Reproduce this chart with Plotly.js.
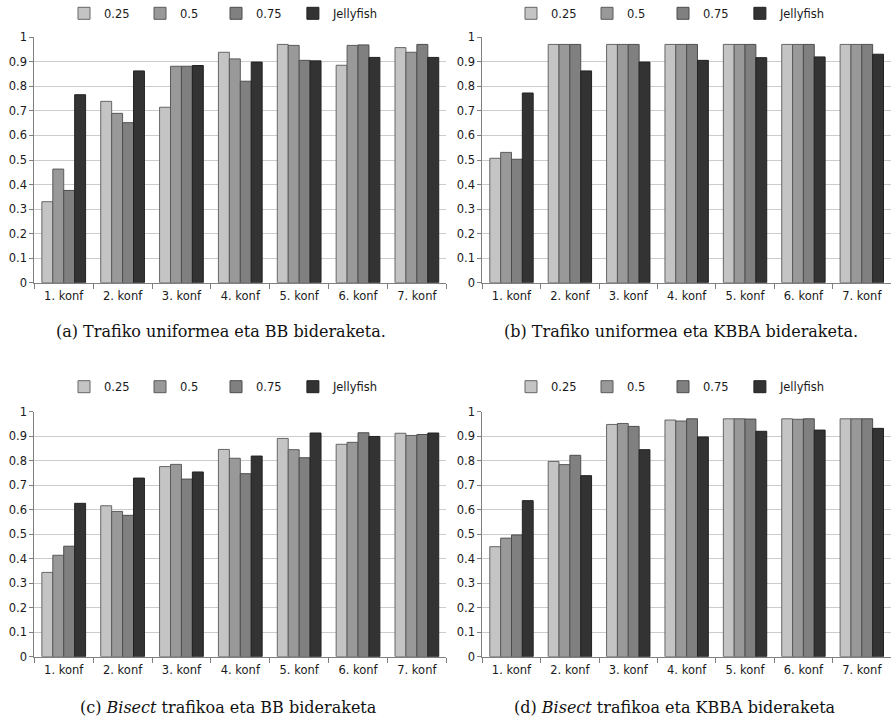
<!DOCTYPE html>
<html>
<head>
<meta charset="utf-8">
<script src="https://cdn.plot.ly/plotly-3.0.1.min.js"></script>
<style>
  html, body { margin: 0; padding: 0; background: #ffffff; overflow: hidden; }
  #chart { width: 891px; height: 720px; }
</style>
</head>
<body>
<div id="chart"></div>
<script>
// ---- data ----
const categories = ['1. konf', '2. konf', '3. konf', '4. konf', '5. konf', '6. konf', '7. konf'];
const seriesNames = ['0.25', '0.5', '0.75', 'Jellyfish'];

// (a) Trafiko uniformea eta BB bideraketa
const a_025 = [0.330, 0.739, 0.715, 0.939, 0.971, 0.886, 0.958];
const a_050 = [0.463, 0.690, 0.882, 0.912, 0.967, 0.967, 0.939];
const a_075 = [0.376, 0.652, 0.882, 0.821, 0.906, 0.969, 0.971];
const a_jf  = [0.766, 0.863, 0.885, 0.899, 0.904, 0.918, 0.918];

// (b) Trafiko uniformea eta KBBA bideraketa
const b_025 = [0.507, 0.971, 0.971, 0.971, 0.971, 0.971, 0.971];
const b_050 = [0.531, 0.971, 0.971, 0.971, 0.971, 0.971, 0.971];
const b_075 = [0.503, 0.971, 0.971, 0.971, 0.971, 0.971, 0.971];
const b_jf  = [0.773, 0.863, 0.899, 0.906, 0.917, 0.920, 0.931];

// (c) Bisect trafikoa eta BB bideraketa
const c_025 = [0.344, 0.616, 0.776, 0.846, 0.891, 0.867, 0.912];
const c_050 = [0.414, 0.593, 0.785, 0.810, 0.845, 0.875, 0.903];
const c_075 = [0.451, 0.577, 0.725, 0.747, 0.812, 0.914, 0.907];
const c_jf  = [0.626, 0.729, 0.754, 0.819, 0.913, 0.899, 0.913];

// (d) Bisect trafikoa eta KBBA bideraketa
const d_025 = [0.449, 0.797, 0.948, 0.966, 0.971, 0.971, 0.971];
const d_050 = [0.484, 0.784, 0.952, 0.962, 0.971, 0.969, 0.971];
const d_075 = [0.497, 0.822, 0.940, 0.971, 0.970, 0.971, 0.971];
const d_jf  = [0.637, 0.739, 0.845, 0.897, 0.920, 0.925, 0.932];

const captions = [
  '(a) Trafiko uniformea eta BB bideraketa.',
  '(b) Trafiko uniformea eta KBBA bideraketa.',
  '(c) <i>Bisect</i> trafikoa eta BB bideraketa',
  '(d) <i>Bisect</i> trafikoa eta KBBA bideraketa'
];
const yTickVals = [0, 0.1, 0.2, 0.3, 0.4, 0.5, 0.6, 0.7, 0.8, 0.9, 1];
const yTickText = ['0', '0.1', '0.2', '0.3', '0.4', '0.5', '0.6', '0.7', '0.8', '0.9', '1'];

// ---- styling ----
const fillColors = ['#c4c4c4', '#999999', '#808080', '#333333'];
const lineColors = ['#666666', '#5a5a5a', '#4d4d4d', '#222222'];
// each panel: first three entries share one legend (fixed entry width), Jellyfish in its own legend
const panels = [
  { series: [a_025, a_050, a_075, a_jf], xa: 'x',  ya: 'y',  legends: ['legend',  'legend5'] },
  { series: [b_025, b_050, b_075, b_jf], xa: 'x2', ya: 'y2', legends: ['legend2', 'legend6'] },
  { series: [c_025, c_050, c_075, c_jf], xa: 'x3', ya: 'y3', legends: ['legend3', 'legend7'] },
  { series: [d_025, d_050, d_075, d_jf], xa: 'x4', ya: 'y4', legends: ['legend4', 'legend8'] }
];

const traces = [];
panels.forEach(p => {
  p.series.forEach((vals, i) => {
    traces.push({
      type: 'bar',
      name: seriesNames[i],
      x: categories,
      y: vals,
      xaxis: p.xa,
      yaxis: p.ya,
      legend: i < 3 ? p.legends[0] : p.legends[1],
      marker: { color: fillColors[i], line: { color: lineColors[i], width: 1 } },
      hoverinfo: 'x+y+name'
    });
  });
});

const W = 891, H = 720;
const tickFont = { family: 'DejaVu Sans, sans-serif', size: 11.5, color: '#1a1a1a' };

function xAxis(domain, anchor) {
  return {
    domain: domain, anchor: anchor, type: 'category',
    range: [-0.5, categories.length - 0.5], automargin: false,
    showline: true, linecolor: '#808080', linewidth: 1,
    ticks: 'outside', tickson: 'boundaries', ticklen: 5, tickcolor: '#808080', tickwidth: 1,
    tickangle: 0, ticklabelstandoff: 2,
    showgrid: false, zeroline: false, tickfont: tickFont, fixedrange: true
  };
}
function yAxis(domain, anchor) {
  return {
    domain: domain, anchor: anchor, range: [0, 1], automargin: false,
    tickvals: yTickVals, ticktext: yTickText,
    showline: true, linecolor: '#808080', linewidth: 1,
    ticks: 'outside', ticklen: 4, tickcolor: '#808080', tickwidth: 1,
    showgrid: true, gridcolor: '#cccccc', gridwidth: 1,
    zeroline: false, tickfont: tickFont, fixedrange: true
  };
}

const xL = [34.3 / W, 446.3 / W], xR = [482.3 / W, 1];
const yT = [(H - 282.7) / H, (H - 37.3) / H], yB = [(H - 656.7) / H, (H - 411.7) / H];

function legendAt(xpx, ypx, fixedWidth) {
  const lg = {
    orientation: 'h', x: xpx / W, y: (H - ypx) / H, xanchor: 'left', yanchor: 'middle',
    itemwidth: 30,
    font: { family: 'DejaVu Sans, sans-serif', size: 11.5, color: '#1a1a1a' },
    bgcolor: 'rgba(0,0,0,0)', borderwidth: 0, traceorder: 'normal',
    itemclick: false, itemdoubleclick: false
  };
  if (fixedWidth) { lg.entrywidth = 31; lg.entrywidthmode = 'pixels'; }
  return lg;
}

const capFont = { family: 'DejaVu Serif, serif', size: 16, color: '#111111' };
function caption(text, xpx, ypx) {
  return { text: text, xref: 'paper', yref: 'paper', x: xpx / W, y: (H - ypx) / H,
           xanchor: 'center', yanchor: 'middle', showarrow: false, font: capFont };
}

const LXL = 64, LXR = 511, STEP = 76.3;
const layout = {
  width: W, height: H,
  margin: { l: 0, r: 0, t: 0, b: 0, autoexpand: false },
  paper_bgcolor: '#ffffff', plot_bgcolor: '#ffffff',
  barmode: 'group', bargap: 0.257, bargroupgap: 0,
  xaxis: xAxis(xL, 'y'),   yaxis: yAxis(yT, 'x'),
  xaxis2: xAxis(xR, 'y2'), yaxis2: yAxis(yT, 'x2'),
  xaxis3: xAxis(xL, 'y3'), yaxis3: yAxis(yB, 'x3'),
  xaxis4: xAxis(xR, 'y4'), yaxis4: yAxis(yB, 'x4'),
  legend:  legendAt(LXL, 13.3, true),
  legend2: legendAt(LXR, 13.3, true),
  legend3: legendAt(LXL, 386.7, true),
  legend4: legendAt(LXR, 386.7, true),
  legend5: legendAt(LXL + 3 * STEP, 13.3, false),
  legend6: legendAt(LXR + 3 * STEP, 13.3, false),
  legend7: legendAt(LXL + 3 * STEP, 386.7, false),
  legend8: legendAt(LXR + 3 * STEP, 386.7, false),
  annotations: [
    caption(captions[0], 221, 331),
    caption(captions[1], 681, 331),
    caption(captions[2], 228, 707),
    caption(captions[3], 675, 707)
  ]
};

Plotly.newPlot('chart', traces, layout, { displayModeBar: false, responsive: false });
</script>
</body>
</html>
